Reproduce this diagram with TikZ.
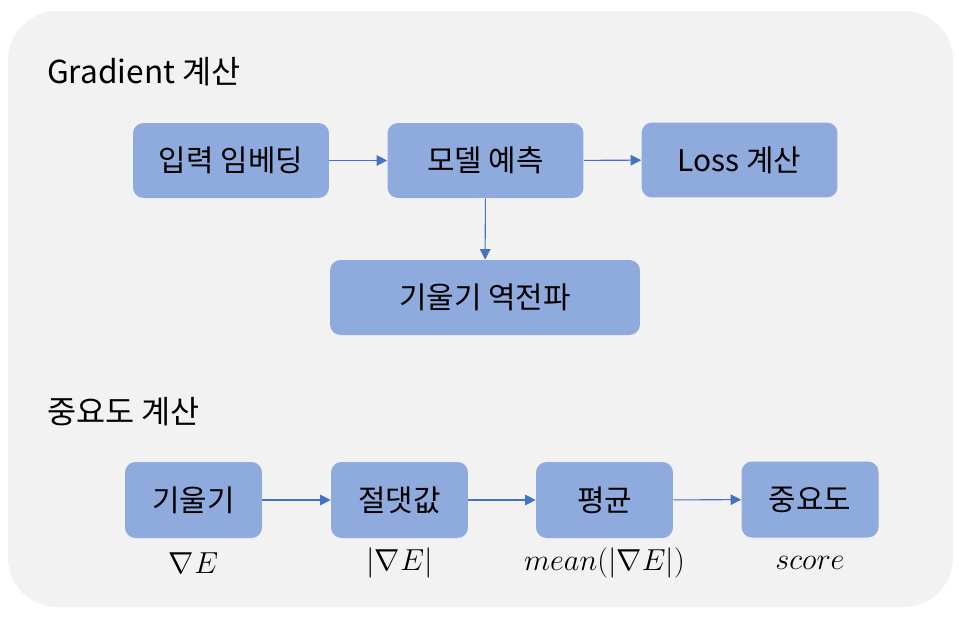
\documentclass[tikz,border=0pt]{standalone}
\usepackage{fontspec}
\setmainfont{Noto Sans CJK KR}
\usepackage{tikz}
\usetikzlibrary{arrows.meta, positioning}
\definecolor{panelgray}{HTML}{F2F2F2}
\definecolor{boxblue}{HTML}{8FAADC}
\definecolor{arrowblue}{HTML}{4472C4}

\begin{document}
\begin{tikzpicture}[
    x=0.02cm, y=-0.02cm,
    box/.style={fill=boxblue, rounded corners=6pt, minimum width=3.92cm,
                minimum height=1.5cm, align=center, inner sep=0pt,
                font=\fontsize{17}{20}\selectfont},
    sbox/.style={box, minimum width=2.74cm, minimum height=1.52cm},
    title/.style={anchor=west, font=\fontsize{18}{22}\selectfont},
    lbl/.style={font=\fontsize{16}{19}\selectfont},
    arr/.style={-{Triangle[length=6pt, width=6pt]}, line width=0.6pt, arrowblue}
  ]
    \useasboundingbox (0,0) rectangle (959,619);
    \fill[panelgray, rounded corners=28pt] (8,11) rectangle (953,607);

    % Gradient
    \node[title] (gtitle) at (41, 72) {Gradient 계산};
    \node[box] (emb) at (231, 160.5) {입력 임베딩};
    \node[box] (pred) at (485.5, 160.5) {모델 예측};
    \node[box] (loss) at (739.5, 160) {Loss 계산};
    \node[box, minimum width=6.2cm] (back) at (485, 297.5) {기울기 역전파};

    \draw[arr] (emb) -- (pred);
    \draw[arr] (pred) -- (loss);
    \draw[arr] (pred) -- (back);

    % Importance
    \node[title] (stitle) at (41, 412) {중요도 계산};
    \node[sbox] (grad) at (193.5, 500) {기울기};
    \node[sbox] (absv) at (399.5, 500) {절댓값};
    \node[sbox] (avg) at (604.5, 500) {평균};
    \node[sbox] (imp) at (810, 499.5) {중요도};

    \draw[arr] (grad) -- (absv);
    \draw[arr] (absv) -- (avg);
    \draw[arr] (avg) -- (imp);

    \node[lbl] (gradlbl) at (193.5, 563) {$\nabla E$};
    \node[lbl] (absvlbl) at (399.5, 563) {$|\nabla E|$};
    \node[lbl] (avglbl) at (604.5, 563) {$mean(|\nabla E|)$};
    \node[lbl] (implbl) at (810, 563) {$score$};
\end{tikzpicture}
\end{document}
